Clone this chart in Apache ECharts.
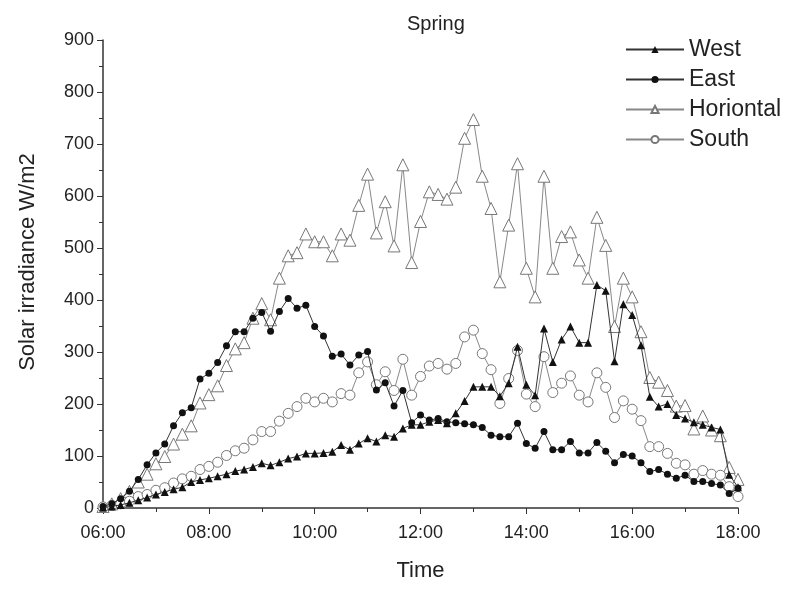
<!DOCTYPE html>
<html>
<head>
<meta charset="utf-8">
<script src="https://cdn.jsdelivr.net/npm/echarts@6/dist/echarts.min.js"></script>
<style>
  html, body { margin: 0; padding: 0; background: #fff; }
  #chart { width: 791px; height: 592px; }
</style>
</head>
<body>
<div id="chart"></div>
<script>
// readings every 10 minutes from 06:00 to 18:00 (73 points)
const startHour = 6;
const stepMinutes = 10;

const west = [1, 3, 6, 10, 15, 20, 26, 31, 36, 40, 50, 54, 57, 61, 65, 71, 74, 79, 86, 82,
  88, 95, 99, 105, 105, 106, 108, 121, 112, 124, 134, 128, 140, 137, 153, 160, 160, 166, 169, 163,
  182, 206, 233, 233, 233, 215, 240, 310, 237, 217, 345, 281, 324, 349, 318, 318, 429, 418, 282, 392,
  371, 313, 214, 195, 200, 179, 172, 165, 160, 155, 151, 64, 40];

const east = [3, 8, 18, 32, 55, 83, 106, 123, 158, 183, 193, 248, 259, 280, 312, 339, 339, 365, 376, 340,
  378, 403, 384, 390, 349, 331, 292, 296, 275, 294, 301, 227, 241, 196, 226, 164, 179, 169, 172, 166,
  164, 162, 160, 155, 140, 137, 137, 163, 124, 115, 147, 112, 112, 128, 106, 106, 126, 109, 87, 103,
  100, 87, 70, 74, 65, 57, 63, 51, 51, 47, 44, 28, 38];

const horizontal = [3, 8, 18, 32, 50, 65, 85, 99, 123, 142, 158, 202, 218, 235, 274, 306, 318, 365, 393, 362,
  442, 485, 491, 527, 512, 512, 485, 527, 515, 582, 642, 529, 589, 504, 660, 472, 551, 608, 603, 594,
  617, 711, 747, 638, 576, 435, 544, 662, 461, 406, 638, 461, 522, 531, 477, 442, 559, 505, 349, 442,
  406, 339, 251, 242, 226, 196, 197, 152, 177, 150, 139, 78, 55];

const south = [2, 5, 8, 13, 22, 26, 34, 39, 48, 56, 61, 74, 80, 88, 101, 110, 115, 131, 147, 147,
  167, 182, 195, 211, 204, 211, 204, 220, 217, 260, 281, 237, 262, 226, 286, 217, 253, 273, 278, 267,
  278, 329, 342, 297, 266, 201, 249, 303, 219, 195, 291, 222, 240, 254, 217, 204, 260, 232, 174, 206,
  190, 168, 118, 118, 105, 86, 83, 65, 72, 65, 63, 41, 22];

const seriesNames = ["West", "East", "Horiontal", "South"];

const toPoints = (values) =>
  values.map((v, i) => [startHour + (i * stepMinutes) / 60, v]);

const fmtHour = (h) => (h < 10 ? "0" + h : "" + h) + ":00";

const chart = echarts.init(document.getElementById("chart"));

const font = "Liberation Sans, Arial, sans-serif";

chart.setOption({
  animation: false,
  backgroundColor: "#fff",
  title: {
    text: "Spring",
    left: 402,
    top: 9,
    textStyle: { fontFamily: font, fontSize: 20, fontWeight: "normal", color: "#222" },
  },
  legend: {
    orient: "vertical",
    left: 620,
    top: 33,
    itemWidth: 58,
    itemHeight: 9,
    itemGap: 7,
    textStyle: { fontFamily: font, fontSize: 23, color: "#222" },
    data: seriesNames,
  },
  grid: { left: 103, right: 53, top: 40, bottom: 84 },
  xAxis: {
    type: "value",
    min: 6,
    max: 18,
    interval: 2,
    name: "Time",
    nameLocation: "middle",
    nameGap: 52,
    nameTextStyle: { fontFamily: font, fontSize: 22, color: "#222" },
    axisLine: { show: true, lineStyle: { color: "#333", width: 1.5 } },
    axisTick: { show: true, length: 6, lineStyle: { color: "#333" } },
    minorTick: { show: true, splitNumber: 2, length: 4, lineStyle: { color: "#333" } },
    splitLine: { show: false },
    axisLabel: {
      fontFamily: font,
      fontSize: 18,
      color: "#222",
      margin: 16,
      formatter: (v) => fmtHour(v),
    },
  },
  yAxis: {
    type: "value",
    min: 0,
    max: 900,
    interval: 100,
    name: "Solar irradiance W/m2",
    nameLocation: "middle",
    nameGap: 64,
    nameTextStyle: { fontFamily: font, fontSize: 22, color: "#222", padding: [0, 0, 0, 24] },
    axisLine: { show: true, lineStyle: { color: "#333", width: 1.5 } },
    axisTick: { show: true, length: 6, lineStyle: { color: "#333" } },
    minorTick: { show: true, splitNumber: 2, length: 4, lineStyle: { color: "#333" } },
    splitLine: { show: false },
    axisLabel: { fontFamily: font, fontSize: 18, color: "#222", margin: 9 },
  },
  series: [
    {
      name: "Horiontal",
      type: "line",
      data: toPoints(horizontal),
      symbol: "triangle",
      symbolSize: 12,
      lineStyle: { color: "#888", width: 1 },
      itemStyle: { color: "#fff", borderColor: "#777", borderWidth: 1 },
      z: 2,
    },
    {
      name: "South",
      type: "line",
      data: toPoints(south),
      symbol: "circle",
      symbolSize: 10,
      lineStyle: { color: "#888", width: 1 },
      itemStyle: { color: "#fff", borderColor: "#777", borderWidth: 1 },
      z: 3,
    },
    {
      name: "East",
      type: "line",
      data: toPoints(east),
      symbol: "circle",
      symbolSize: 7,
      lineStyle: { color: "#333", width: 1 },
      itemStyle: { color: "#111" },
      z: 4,
    },
    {
      name: "West",
      type: "line",
      data: toPoints(west),
      symbol: "triangle",
      symbolSize: 8,
      lineStyle: { color: "#333", width: 1 },
      itemStyle: { color: "#111" },
      z: 5,
    },
  ],
});
</script>
</body>
</html>
